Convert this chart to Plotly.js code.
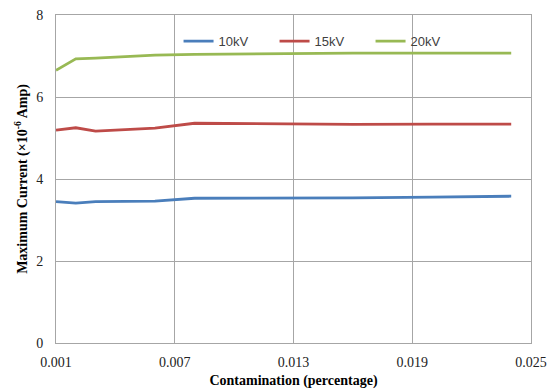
<!DOCTYPE html>
<html><head><meta charset="utf-8">
<script src="https://cdn.plot.ly/plotly-3.0.1.min.js"></script>
<style>html,body{margin:0;padding:0;background:#fff}#c{width:553px;height:389px}</style>
</head><body><div id="c"></div>
<script>
const contamination = [0.001, 0.002, 0.003, 0.006, 0.008, 0.012, 0.016, 0.020, 0.024];
const current10kV = [3.45, 3.41, 3.45, 3.46, 3.53, 3.53, 3.54, 3.56, 3.58];
const current15kV = [5.19, 5.25, 5.17, 5.24, 5.36, 5.35, 5.33, 5.34, 5.34];
const current20kV = [6.65, 6.93, 6.95, 7.02, 7.04, 7.06, 7.07, 7.07, 7.07];
const seriesNames = ['10kV', '15kV', '20kV'];
const xTicks = [0.001, 0.007, 0.013, 0.019, 0.025];
const xTickText = ['0.001', '0.007', '0.013', '0.019', '0.025'];
const yTicks = [0, 2, 4, 6, 8];

const colors = ['#4a7ebb', '#be4b48', '#98b954'];
const ys = [current10kV, current15kV, current20kV];
const traces = ys.map((y, i) => ({
  x: contamination, y: y, name: seriesNames[i], type: 'scatter', mode: 'lines',
  line: {color: colors[i], width: 2.8}
}));
const serif = 'Liberation Serif, Times New Roman, serif';
const layout = {
  width: 553, height: 389,
  margin: {l: 56, r: 22, t: 15, b: 46},
  paper_bgcolor: '#fff', plot_bgcolor: '#fff',
  showlegend: true,
  legend: {orientation: 'h', x: 0.258, y: 0.92, xanchor: 'left', yanchor: 'middle',
    font: {family: 'Liberation Sans, Arial, sans-serif', size: 13, color: '#404040'},
    bgcolor: 'rgba(0,0,0,0)', entrywidth: 51, entrywidthmode: 'pixels', itemwidth: 30, tracegroupgap: 0},
  xaxis: {range: [0.001, 0.025], tickvals: xTicks, ticktext: xTickText,
    showgrid: true, gridcolor: '#a6a6a6', gridwidth: 1,
    showline: true, linecolor: '#a6a6a6', linewidth: 1, mirror: true,
    ticks: '', zeroline: false, ticklabelstandoff: 6,
    tickfont: {family: serif, size: 14, color: '#222'},
    title: {text: '<b>Contamination (percentage)</b>', font: {family: serif, size: 14, color: '#000'}, standoff: 8}},
  yaxis: {range: [0, 8], tickvals: yTicks,
    showgrid: true, gridcolor: '#a6a6a6', gridwidth: 1,
    showline: true, linecolor: '#a6a6a6', linewidth: 1, mirror: true,
    ticks: '', zeroline: false, ticklabelstandoff: 9,
    tickfont: {family: serif, size: 14, color: '#222'},
    title: {text: '<b>Maximum Current (×10<sup>-6</sup> Amp)</b>', font: {family: serif, size: 14, color: '#000'}, standoff: 5}}
};
Plotly.newPlot('c', traces, layout, {displayModeBar: false, staticPlot: true});
</script></body></html>
